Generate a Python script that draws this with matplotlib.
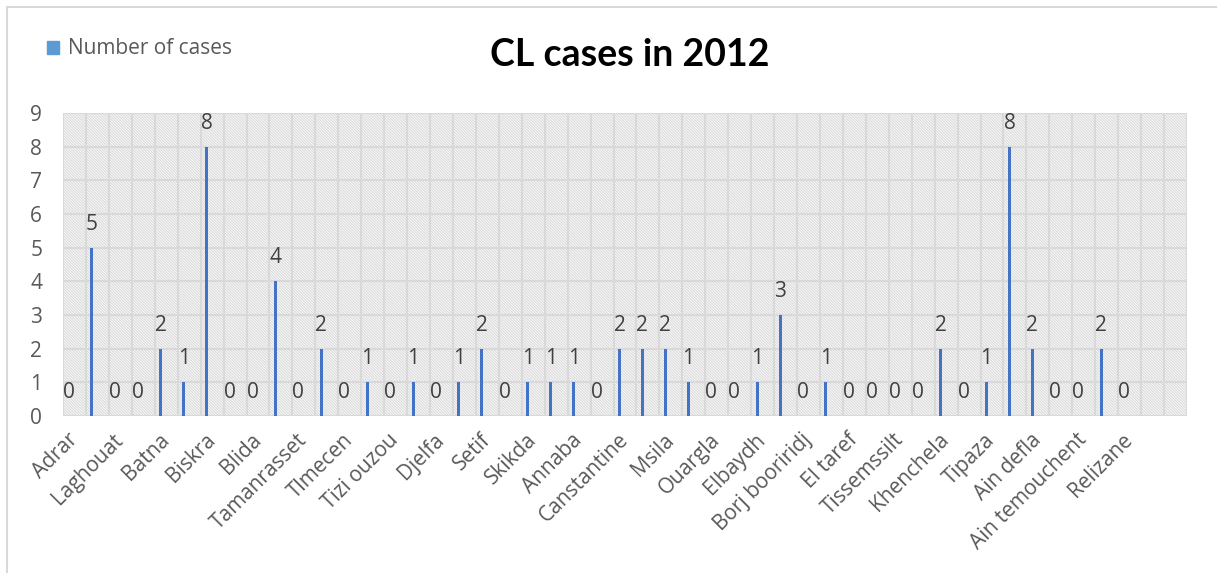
import numpy as np
import matplotlib
matplotlib.use('Agg')
import matplotlib.pyplot as plt
from matplotlib.patches import Patch, Rectangle

# wilayas shown on the axis (every other category is labelled)
shown_labels = ['Adrar', 'Laghouat', 'Batna', 'Biskra', 'Blida', 'Tamanrasset',
                'Tlmecen', 'Tizi ouzou', 'Djelfa', 'Setif', 'Skikda', 'Annaba',
                'Canstantine', 'Msila', 'Ouargla', 'Elbaydh', 'Borj booriridj',
                'El taref', 'Tissemssilt', 'Khenchela', 'Tipaza', 'Ain defla',
                'Ain temouchent', 'Relizane']

# number of cases per category, in axis order
cases = [0, 5, 0, 0, 2, 1, 8, 0, 0, 4, 0, 2, 0, 1, 0, 1, 0, 1, 2, 0,
         1, 1, 1, 0, 2, 2, 2, 1, 0, 0, 1, 3, 0, 1, 0, 0, 0, 0, 2, 0,
         1, 8, 2, 0, 0, 2, 0]
n_empty = 2  # two blank categories at the end of the axis

categories = []
for i in range(len(cases)):
    categories.append(shown_labels[i // 2] if i % 2 == 0 else '')
categories += [''] * n_empty

n = len(categories)
x = np.arange(n)
bar_x = x[:len(cases)] - 0.24

plt.rcParams['font.family'] = ['Open Sans', 'DejaVu Sans']
plt.rcParams['hatch.linewidth'] = 0.9

fig = plt.figure(figsize=(12.17, 5.73), dpi=100)
ax = fig.add_axes([63 / 1217, 1 - 416 / 573, (1187 - 63) / 1217, (416 - 113) / 573])

grid_c = '#d9d9d9'
ax.add_patch(Rectangle((0, 0), 1, 1, transform=ax.transAxes, facecolor='white',
                       edgecolor='#dcdcdc', hatch='\\' * 12, lw=0, zorder=0))

bar_c = '#4472C4'
ax.bar(bar_x, cases, width=0.13, color=bar_c, zorder=3)

for bx, v in zip(bar_x, cases):
    ax.annotate(str(v), xy=(bx, v), xytext=(0, 17), textcoords='offset points',
                ha='center', va='center', fontsize=15, color='#404040', zorder=4)

ax.set_xlim(-0.5, n - 0.5)
ax.set_ylim(0, 9)
ax.set_yticks(range(10))
ax.yaxis.grid(True, color=grid_c, lw=1.5, zorder=1)
for b in np.arange(-0.5, n, 1.0):
    ax.axvline(b, color=grid_c, lw=1.5, zorder=1)
ax.set_axisbelow(True)

tick_pos = [i for i, c in enumerate(categories) if c]
ax.set_xticks(tick_pos)
ax.set_xticklabels([categories[i] for i in tick_pos], rotation=45, ha='right',
                   va='center', rotation_mode='anchor', fontsize=15, color='#595959')
ax.tick_params(axis='x', length=0, pad=15)
ax.tick_params(axis='y', length=0, pad=15, labelsize=15, labelcolor='#595959')
for s in ax.spines.values():
    s.set_visible(False)

fig.text(630 / 1217, 1 - 55 / 573, 'CL cases in 2012', ha='center', va='center',
         fontsize=27, fontweight='bold', family=['Lato', 'DejaVu Sans'], color='black')

fig.legend(handles=[Patch(color='#5B9BD5')], labels=['Number of cases'],
           loc='center left', bbox_to_anchor=(28 / 1217, 1 - 49 / 573), frameon=False,
           handlelength=0.6, handleheight=0.6, handletextpad=0.4,
           prop={'size': 15}, labelcolor='#595959')

# chart area border (only top and left edges are inside the image)
fig.patches.append(Rectangle((7 / 1217, -0.5), 2, 0.5 + (1 - 7 / 573),
                             transform=fig.transFigure, fill=False,
                             edgecolor=grid_c, lw=1.5))

fig.savefig('out.png', dpi=100)
